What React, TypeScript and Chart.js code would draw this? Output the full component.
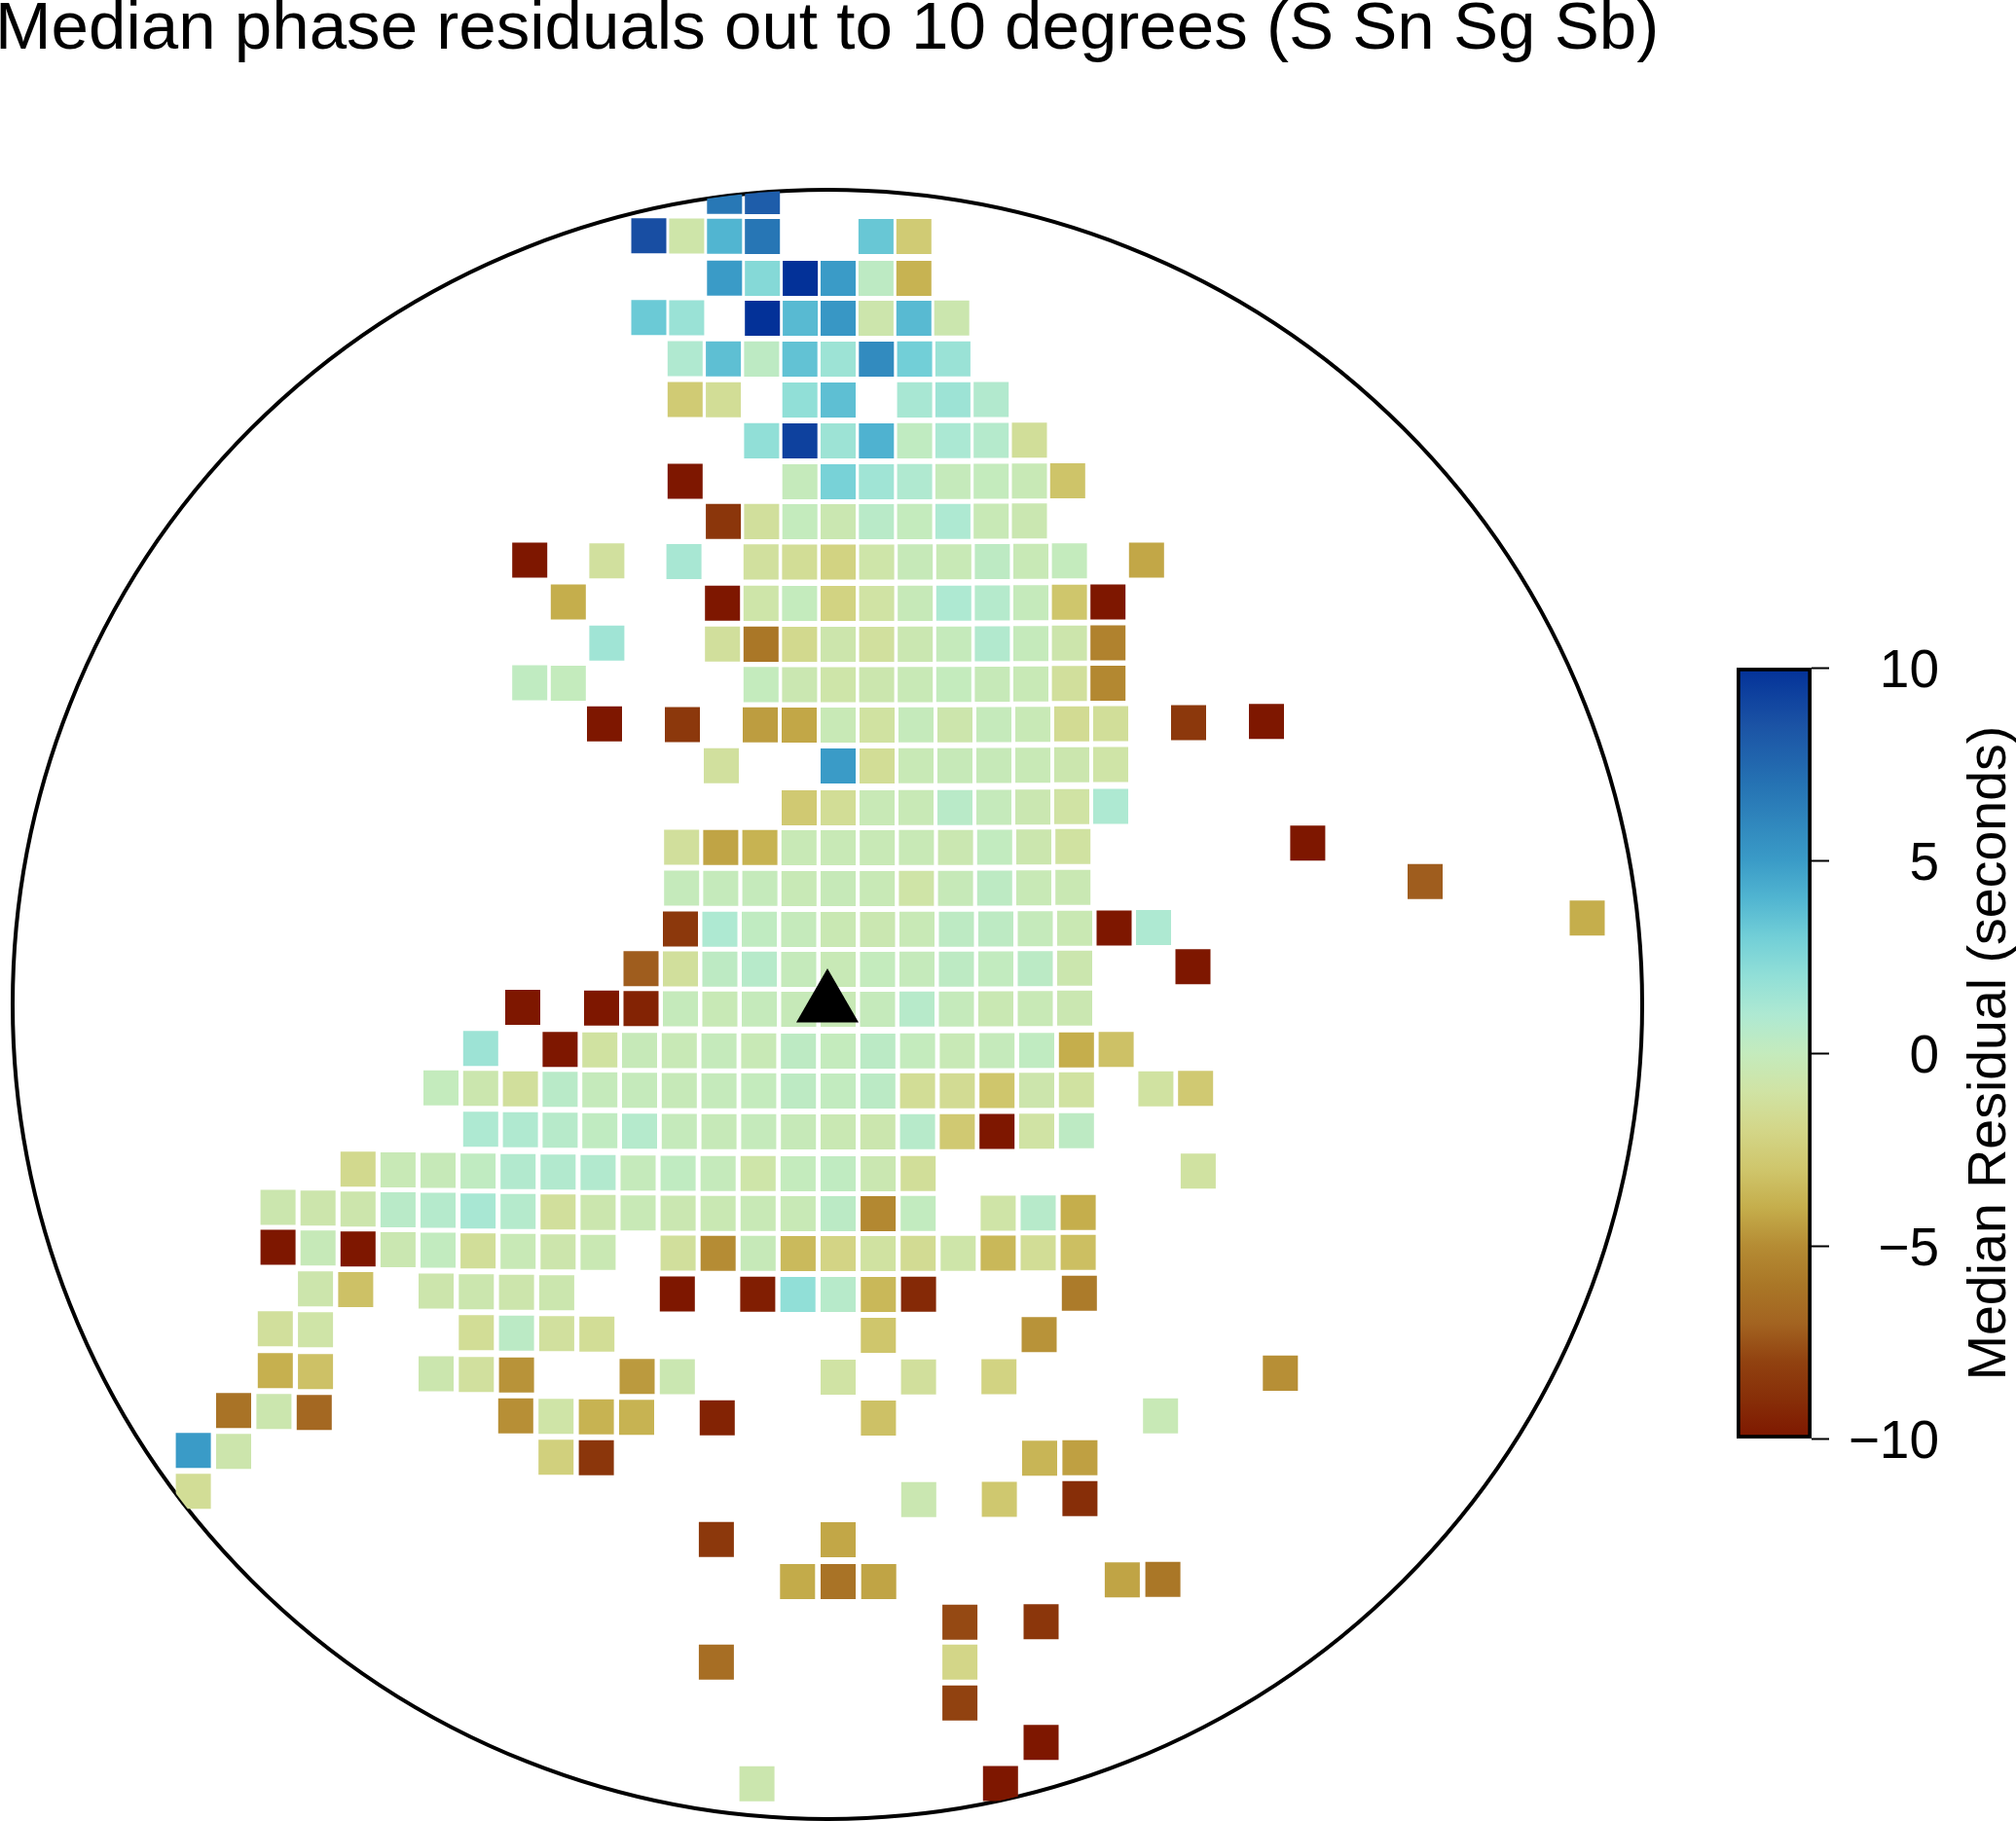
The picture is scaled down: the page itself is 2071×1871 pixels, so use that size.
import React, { useEffect, useRef } from "react";
import { Chart, registerables } from "chart.js";

Chart.register(...registerables);

const FONT = "'Liberation Sans', Arial, Helvetica, sans-serif";
const titleText = "Median phase residuals out to 10 degrees (S Sn Sg Sb)";
const colorbarTitle = "Median Residual (seconds)";
const colorbarTicks = [-10, -5, 0, 5, 10];

// Colour ramp (value -> colour).
const rampValues = [-10, -9, -8, -7, -6, -5, -4, -3, -2, -1, 0, 1, 2, 3, 4, 5, 7, 8.5, 10];
const rampColors = [
  "#7e1700", "#872e08", "#914210", "#a36421", "#aa7727", "#b58c34", "#c5ae4c", "#cfc66c", "#d3d688", "#d0e3a4",
  "#c4ebbd", "#aee9d2", "#91dfd7", "#72cfd7", "#51b5d1", "#3a9bc7", "#2572b3", "#1b53a5", "#033198",
];

// Distance north of the station for each row of grid cells.
const rowNorth = [
  830, 789, 746, 705, 663, 621, 579, 537, 496, 454.5, 412, 370, 328.5, 287, 245, 202, 161, 119, 77, 36,
  -5, -48, -89, -131, -174, -215, -256, -298, -340, -383, -425, -467, -509, -550, -593, -635, -676, -718, -759, -801,
];
// East-west spacing of the grid columns in each row.
const rowPitch = [
  38.9, 38.9, 38.9, 38.9, 39.3, 39.3, 39.3, 39.3, 39.3, 39.6, 39.6, 39.6, 39.6, 40, 40, 40, 40.2, 40.2, 40.5, 40.5,
  40.5, 40.8, 40.8, 40.8, 41.1, 41.1, 41.1, 41.3, 41.3, 41.3, 41.4, 41.4, 41.4, 41.7, 41.7, 41.7, 41.7, 41.7, 41.7, 41.7,
];
const rowColumns = [
  [-3, -2],
  [-5, -4, -3, -2, 1, 2],
  [-3, -2, -1, 0, 1, 2],
  [-5, -4, -2, -1, 0, 1, 2, 3],
  [-4, -3, -2, -1, 0, 1, 2, 3],
  [-4, -3, -1, 0, 2, 3, 4],
  [-2, -1, 0, 1, 2, 3, 4, 5],
  [-4, -1, 0, 1, 2, 3, 4, 5, 6],
  [-3, -2, -1, 0, 1, 2, 3, 4, 5],
  [-8, -6, -4, -2, -1, 0, 1, 2, 3, 4, 5, 6, 8],
  [-7, -3, -2, -1, 0, 1, 2, 3, 4, 5, 6, 7],
  [-6, -3, -2, -1, 0, 1, 2, 3, 4, 5, 6, 7],
  [-8, -7, -2, -1, 0, 1, 2, 3, 4, 5, 6, 7],
  [-6, -4, -2, -1, 0, 1, 2, 3, 4, 5, 6, 7, 9, 11],
  [-3, 0, 1, 2, 3, 4, 5, 6, 7],
  [-1, 0, 1, 2, 3, 4, 5, 6, 7],
  [-4, -3, -2, -1, 0, 1, 2, 3, 4, 5, 6, 12],
  [-4, -3, -2, -1, 0, 1, 2, 3, 4, 5, 6, 15],
  [-4, -3, -2, -1, 0, 1, 2, 3, 4, 5, 6, 7, 8, 19],
  [-5, -4, -3, -2, -1, 0, 1, 2, 3, 4, 5, 6, 9],
  [-8, -6, -5, -4, -3, -2, -1, 0, 1, 2, 3, 4, 5, 6],
  [-9, -7, -6, -5, -4, -3, -2, -1, 0, 1, 2, 3, 4, 5, 6, 7],
  [-10, -9, -8, -7, -6, -5, -4, -3, -2, -1, 0, 1, 2, 3, 4, 5, 6, 8, 9],
  [-9, -8, -7, -6, -5, -4, -3, -2, -1, 0, 1, 2, 3, 4, 5, 6],
  [-12, -11, -10, -9, -8, -7, -6, -5, -4, -3, -2, -1, 0, 1, 2, 9],
  [-14, -13, -12, -11, -10, -9, -8, -7, -6, -5, -4, -3, -2, -1, 0, 1, 2, 4, 5, 6],
  [-14, -13, -12, -11, -10, -9, -8, -7, -6, -4, -3, -2, -1, 0, 1, 2, 3, 4, 5, 6],
  [-13, -12, -10, -9, -8, -7, -4, -2, -1, 0, 1, 2, 6],
  [-14, -13, -9, -8, -7, -6, 1, 5],
  [-14, -13, -10, -9, -8, -5, -4, 0, 2, 4, 11],
  [-15, -14, -13, -8, -7, -6, -5, -3, 1, 8],
  [-16, -15, -7, -6, 5, 6],
  [-16, 2, 4, 6],
  [-3, 0],
  [-1, 0, 1, 7, 8],
  [3, 5],
  [-3, 3],
  [3],
  [5],
  [-2, 4],
];
// Median residual (seconds) of each cell.
const rowResiduals = [
  [6.7, 8],
  [8.7, -0.8, 4, 6.8, 3.3, -2.7],
  [5, 2.4, 10, 5, 0.3, -3.8],
  [3.2, 1.7, 10, 3.8, 5.2, -0.7, 3.8, -0.6],
  [0.9, 3.6, 0.3, 3.5, 1.6, 5.8, 3, 1.7],
  [-2.7, -1.5, 2, 3.6, 1.2, 1.6, 0.8],
  [2, 9.3, 1.6, 4.1, 0.2, 1.1, 0.7, -1.4],
  [-10, -0.1, 2.8, 1.5, 0.9, -0.1, 0, -0.3, -3.1],
  [-8.6, -1.3, 0, -0.5, 0.5, 0, 1, -0.3, -0.5],
  [-10, -1.2, 1.2, -1.2, -1.5, -2.2, -0.8, -0.2, -0.3, 0.3, -0.3, 0, -4.2],
  [-4, -10, -0.8, 0, -2.2, -1, -0.2, 1, 0.7, -0.1, -3, -10],
  [1.5, -1.3, -6, -1.8, -0.7, -1.2, -0.5, -0.1, 0.8, -0.1, -0.7, -5.5],
  [0.2, 0, 0, -0.5, -0.8, -0.6, -0.3, 0, -0.2, -0.3, -1.3, -5.2],
  [-10, -8.5, -4.5, -4.2, -0.3, -1.1, -0.1, -0.7, -0.1, -0.3, -1.6, -1.4, -8.5, -10],
  [-1.2, 5, -1.5, -0.3, -0.2, -0.2, -0.3, -0.6, -0.9],
  [-2.8, -1.5, -0.3, -0.3, 0.5, -0.1, -0.5, -1, 1],
  [-1.3, -4.3, -3.8, -0.3, -0.3, -0.3, -0.3, -0.5, 0.1, -0.6, -1.1, -10],
  [-0.1, -0.1, -0.1, -0.3, -0.2, -0.3, -0.9, -0.2, 0.3, -0.3, -0.4, -7.2],
  [-8.5, 1, 0.2, -0.1, -0.4, -0.5, -0.3, 0.3, 0.3, -0.1, -0.4, -10, 1, -4],
  [-7.2, -1.3, 0.3, 0.6, -0.1, -0.3, 0, -0.1, 0.3, 0.1, 0.4, -0.6, -10],
  [-10, -10, -9.5, -0.1, -0.3, -0.1, -0.2, -0.3, -0.1, 0.6, -0.1, -0.4, -0.3, -0.5],
  [1.6, -10, -1.1, -0.2, -0.3, -0.1, -0.3, 0.3, 0, 0.4, 0, -0.3, -0.1, 0.2, -4, -3.2],
  [0, -0.6, -1.3, 0.5, -0.1, -0.1, -0.2, -0.1, 0, 0.3, 0.1, 0.4, -1.5, -1.6, -3, -0.7, -1.1, -1.1, -2.8],
  [1, 0.9, 0.6, 0.2, 0.7, -0.1, -0.2, -0.1, -0.2, -0.4, -0.6, 0.6, -2.8, -10, -1, 0.3],
  [-1.8, -0.3, -0.2, 0.2, 0.8, 0.8, 0.8, -0.1, 0.2, -0.1, -0.8, 0, 0.2, -0.5, -1.4, -1.1],
  [-0.6, -0.7, -0.7, 0.5, 0.7, 1.2, 0.7, -1.3, -0.6, -0.3, -0.5, -0.4, -0.3, -0.3, 0.4, -5.2, 0.1, -0.9, 0.6, -4],
  [-10, -0.2, -10, -0.5, 0.1, -1.4, -0.3, -0.7, -0.4, -1.3, -5, -0.2, -3.5, -2.1, -1.1, -1.6, -0.8, -3.6, -1.5, -3.3],
  [-0.7, -3.2, -0.7, -0.6, -0.7, -0.6, -10, -9.7, 2, 0.6, -3.6, -9.2, -5.8],
  [-1.3, -0.9, -1.5, 0.4, -1.2, -1.5, -3, -4.8],
  [-3.9, -3.2, -0.6, -1.2, -4.8, -4.6, -0.5, -1, -1.3, -2.2, -4.9],
  [-6.2, -0.6, -6.8, -4.9, -0.9, -3.8, -3.8, -9.5, -3.2, -0.3],
  [5, -0.7, -2.4, -8.6, -3.7, -4.4],
  [-1.5, -0.5, -2.9, -9],
  [-8.5, -4.2],
  [-4.1, -6.2, -4.3, -4.3, -6],
  [-7.8, -8.6],
  [-6.5, -2],
  [-8],
  [-10],
  [-0.6, -10],
];

const CENTRAL_COLUMN_EAST = 11; // the grid's central meridian relative to the station
const PARALLEL_SAG = 0.00002; // rows curve gently along the projected parallels

function hexToRgb(hex: string) {
  return [1, 3, 5].map((i) => parseInt(hex.slice(i, i + 2), 16));
}

function residualColor(v: number) {
  const c = Math.max(-10, Math.min(10, v));
  let i = 0;
  while (i < rampValues.length - 2 && c > rampValues[i + 1]) i++;
  const t = (c - rampValues[i]) / (rampValues[i + 1] - rampValues[i]);
  const a = hexToRgb(rampColors[i]);
  const b = hexToRgb(rampColors[i + 1]);
  const m = a.map((p, k) => Math.round(p + (b[k] - p) * t));
  return `rgb(${m[0]},${m[1]},${m[2]})`;
}

const cells = rowNorth.flatMap((north, r) =>
  rowColumns[r].map((col, k) => {
    const east = CENTRAL_COLUMN_EAST + col * rowPitch[r];
    return { x: east, y: north + PARALLEL_SAG * (east - CENTRAL_COLUMN_EAST) ** 2, v: rowResiduals[r][k] };
  })
);

const RADIUS = 837;

const circlePlugin = {
  id: "circleFrame",
  beforeDatasetsDraw(chart: any) {
    const { ctx, scales } = chart;
    const cx = scales.x.getPixelForValue(0);
    const cy = scales.y.getPixelForValue(0);
    const r = scales.x.getPixelForValue(RADIUS) - cx;
    ctx.save();
    ctx.beginPath();
    ctx.arc(cx, cy, r, 0, Math.PI * 2);
    ctx.lineWidth = 4;
    ctx.strokeStyle = "#000";
    ctx.stroke();
    ctx.restore();
    ctx.save();
    ctx.beginPath();
    ctx.arc(cx, cy, r, 0, Math.PI * 2);
    ctx.clip();
  },
  afterDatasetsDraw(chart: any) {
    chart.ctx.restore();
  },
};

const colorbarTitlePlugin = {
  id: "colorbarTitle",
  afterDraw(chart: any) {
    const { ctx, chartArea } = chart;
    ctx.save();
    ctx.translate(chartArea.right + 198.5, (chartArea.top + chartArea.bottom) / 2);
    ctx.rotate(-Math.PI / 2);
    ctx.font = `55.5px ${FONT}`;
    ctx.fillStyle = "#000";
    ctx.textAlign = "center";
    ctx.textBaseline = "alphabetic";
    ctx.fillText(colorbarTitle, 0, 0);
    ctx.restore();
  },
};

export default function App() {
  const mapRef = useRef<HTMLCanvasElement>(null);
  const barRef = useRef<HTMLCanvasElement>(null);

  useEffect(() => {
    document.body.style.margin = "0";
    const map = new Chart(mapRef.current as HTMLCanvasElement, {
      type: "scatter",
      data: {
        datasets: [
          {
            label: "Station",
            data: [{ x: 0, y: 0 }],
            pointStyle: "triangle",
            pointRadius: 37,
            pointBackgroundColor: "#000",
            pointBorderWidth: 0,
            clip: false,
          },
          {
            label: "Median residual",
            data: cells,
            pointStyle: "rect",
            pointRadius: 25.46,
            pointBackgroundColor: cells.map((c) => residualColor(c.v)),
            pointBorderWidth: 0,
            clip: false,
          },
        ],
      } as any,
      options: {
        responsive: false,
        animation: false,
        layout: { padding: { left: -5, right: 0, top: 0, bottom: 2 }, autoPadding: false },
        scales: {
          x: { type: "linear", display: false, min: -850, max: 1221 },
          y: { type: "linear", display: false, min: -RADIUS, max: RADIUS },
        },
        plugins: {
          legend: { display: false },
          tooltip: { enabled: false },
          title: {
            display: true,
            text: titleText,
            align: "start",
            color: "#000",
            font: { family: FONT, size: 69.1, weight: "normal", lineHeight: 1 },
            padding: { top: -3.55, bottom: 129.45 },
          },
        },
      } as any,
      plugins: [circlePlugin],
    });

    const bar = new Chart(barRef.current as HTMLCanvasElement, {
      type: "bar",
      data: {
        labels: [""],
        datasets: [
          {
            label: "Colour scale",
            data: [[-10, 10]],
            categoryPercentage: 1,
            barPercentage: 1,
            borderColor: "#000",
            borderWidth: 4,
            borderSkipped: false,
            backgroundColor: (c: any) => {
              const y = c.chart.scales.y;
              if (!c.chart.chartArea || !y) return rampColors[0];
              const g = c.chart.ctx.createLinearGradient(0, y.getPixelForValue(-10), 0, y.getPixelForValue(10));
              rampValues.forEach((v, i) => g.addColorStop((v + 10) / 20, rampColors[i]));
              return g;
            },
          },
        ],
      } as any,
      options: {
        responsive: false,
        animation: false,
        layout: { padding: { left: 84, top: 0, bottom: 0, right: 79 }, autoPadding: false },
        scales: {
          x: { display: false },
          y: {
            position: "right",
            min: -10,
            max: 10,
            afterFit: (s: any) => {
              s.width = 131;
            },
            afterBuildTicks: (s: any) => {
              s.ticks = colorbarTicks.map((value) => ({ value }));
            },
            border: { display: false },
            grid: { drawOnChartArea: false, drawTicks: true, tickLength: 18, tickColor: "#000", tickWidth: 2 },
            ticks: {
              color: "#000",
              font: { family: FONT, size: 55 },
              padding: 20,
              crossAlign: "far",
              autoSkip: false,
              maxRotation: 0,
              labelOffset: 5,
              callback: (v: any) => String(v).replace("-", "\u2212"),
            },
          },
        },
        plugins: { legend: { display: false }, tooltip: { enabled: false } },
      } as any,
      plugins: [colorbarTitlePlugin],
    });

    return () => {
      map.destroy();
      bar.destroy();
    };
  }, []);

  return (
    <div style={{ position: "absolute", left: 0, top: 0, width: 2071, height: 1871, overflow: "hidden", background: "#fff" }}>
      <canvas ref={mapRef} width={2071} height={1871} style={{ position: "absolute", left: 0, top: 0 }} />
      <canvas ref={barRef} width={371} height={898} style={{ position: "absolute", left: 1700, top: 633 }} />
    </div>
  );
}
